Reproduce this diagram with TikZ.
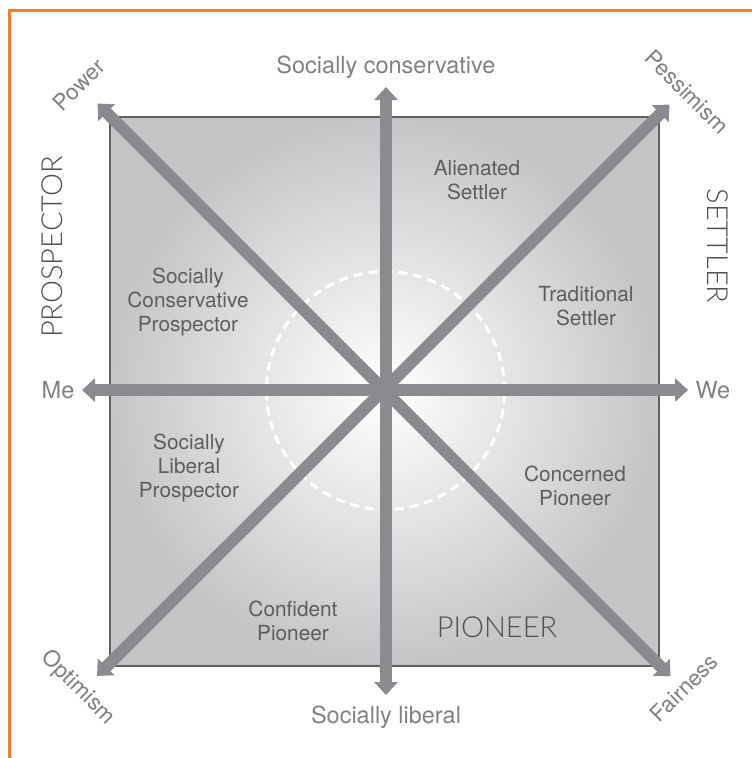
\documentclass[tikz,border=0pt]{standalone}
\usepackage{fontspec}
\setmainfont{TeX Gyre Heros}
\IfFontExistsTF{Lato Light}{\newfontfamily\lightfont{Lato Light}}{\newfontfamily\lightfont{TeX Gyre Heros}}
\usetikzlibrary{arrows.meta}
\definecolor{orng}{RGB}{244,125,58}
\definecolor{arrowgray}{RGB}{138,139,142}
\definecolor{boxgray}{RGB}{196,197,199}
\definecolor{edgegray}{RGB}{95,96,98}
\definecolor{txtdark}{RGB}{92,93,95}
\definecolor{txtbig}{RGB}{78,79,81}
\definecolor{txtmid}{RGB}{128,129,132}
\begin{document}
\begin{tikzpicture}[x=1pt,y=-1pt,
  axisarrow/.style={draw=arrowgray, line width=12pt,
    {Triangle[width=23pt,length=13pt]}-{Triangle[width=23pt,length=13pt]}},
  axislabel/.style={text=txtmid, font=\fontsize{23.5}{27}\selectfont, inner sep=0pt},
  cornerlabel/.style={text=txtmid, font=\fontsize{22.3}{25}\selectfont, inner sep=0pt},
  quadlabel/.style={text=txtdark, font=\fontsize{20.8}{24}\selectfont, align=center, inner sep=0pt},
  biglabel/.style={text=txtbig, font=\lightfont\fontsize{29}{32}\selectfont, inner sep=0pt}]
\useasboundingbox (0,0) rectangle (752,758);
% orange frame
\coordinate (fbl) at (9.5,758);
\coordinate (ftl) at (9.5,10.3);
\coordinate (ftr) at (752,10.3);
\draw[orng, line width=2.4pt] (fbl) -- (ftl) -- (ftr);
% square
\node[minimum width=549pt, minimum height=549pt, inner sep=0pt, draw=edgegray, line width=1.5pt,
  inner color=white, outer color=boxgray] (box) at (384.5,391.5) {};
% dashed ring
\node[circle, minimum size=238pt, inner sep=0pt, draw=white, line width=3pt,
  dash pattern=on 9pt off 6pt] (ring) at (385.5,390.5) {};
% arrow end points
\coordinate (N) at (386,87);
\coordinate (S) at (386,695);
\coordinate (W) at (82,390);
\coordinate (E) at (688,390);
\coordinate (NW) at (97.5,103.5);
\coordinate (SE) at (670.5,676.5);
\coordinate (NE) at (669.5,104.5);
\coordinate (SW) at (97,676);
\draw[axisarrow] (N) -- (S);
\draw[axisarrow] (W) -- (E);
\draw[axisarrow] (NW) -- (SE);
\draw[axisarrow] (NE) -- (SW);
% axis labels
\node[axislabel] (lcons) at (386,67) {Socially conservative};
\node[axislabel] (llib) at (386,717) {Socially liberal};
\node[axislabel] (lme) at (58,390) {Me};
\node[axislabel] (lwe) at (713,390) {We};
% corner labels
\node[cornerlabel, rotate=45] (lpow) at (79,85) {Power};
\node[cornerlabel, rotate=-45] (lpes) at (687,92) {Pessimism};
\node[cornerlabel, rotate=-45] (lopt) at (78,688) {Optimism};
\node[cornerlabel, rotate=45] (lfai) at (684,688) {Fairness};
% big labels
\node[biglabel, rotate=90] (lpro) at (52,247) {PROSPECTOR};
\node[biglabel, rotate=-90] (lset) at (718,246) {SETTLER};
\node[biglabel] (lpio) at (497,627) {PIONEER};
% quadrant labels
\node[quadlabel] (q1) at (477,180) {Alienated\\Settler};
\node[quadlabel] (q2) at (188,302) {Socially\\Conservative\\Prospector};
\node[quadlabel] (q3) at (586,306) {Traditional\\Settler};
\node[quadlabel] (q4) at (189,468) {Socially\\Liberal\\Prospector};
\node[quadlabel] (q5) at (575,486) {Concerned\\Pioneer};
\node[quadlabel] (q6) at (293,621) {Confident\\Pioneer};
\end{tikzpicture}
\end{document}
